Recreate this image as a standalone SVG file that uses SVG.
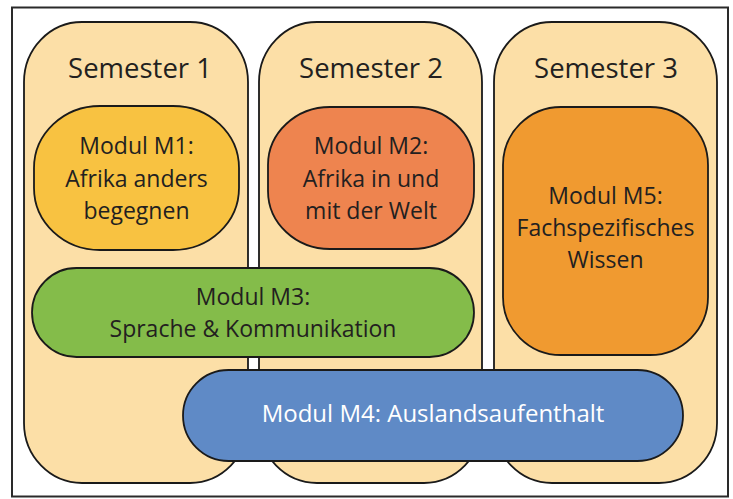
<svg xmlns="http://www.w3.org/2000/svg" width="733" height="499" viewBox="0 0 733 499">
<style>
  .sem { fill: #FCDFA7; stroke: #1a1a1a; stroke-width: 1.8; }
  .mod { stroke: #1a1a1a; stroke-width: 1.8; }
  .t { font-family: "Open Sans", "Noto Sans", "Liberation Sans", sans-serif; fill: #231F20; text-anchor: middle; }
  .h { font-size: 27.5px; }
  .m { font-size: 23px; }
</style>
<rect x="0" y="0" width="733" height="499" fill="#ffffff"/>
<rect id="frame" x="12" y="7.5" width="716" height="489" fill="#ffffff" stroke="#2a2a2a" stroke-width="2"/>

<g id="semester1">
  <rect class="sem" x="24" y="22" width="224" height="461" rx="58" ry="60"/>
  <text class="t h" x="140" y="78">Semester 1</text>
</g>
<g id="semester2">
  <rect class="sem" x="259" y="22" width="223" height="461" rx="58" ry="60"/>
  <text class="t h" x="371" y="78">Semester 2</text>
</g>
<g id="semester3">
  <rect class="sem" x="494" y="22" width="223" height="461" rx="58" ry="60"/>
  <text class="t h" x="606" y="78">Semester 3</text>
</g>

<g id="m1">
  <rect class="mod" x="34" y="106" width="205" height="144" rx="66" ry="62" fill="#F8C241"/>
  <text class="t m" x="136.5" y="154">Modul M1:</text>
  <text class="t m" x="136.5" y="186.5">Afrika anders</text>
  <text class="t m" x="136.5" y="219">begegnen</text>
</g>
<g id="m2">
  <rect class="mod" x="268" y="107" width="206" height="142" rx="62" ry="58" fill="#EE844F"/>
  <text class="t m" x="371" y="154">Modul M2:</text>
  <text class="t m" x="371" y="186.5">Afrika in und</text>
  <text class="t m" x="371" y="219">mit der Welt</text>
</g>
<g id="m5">
  <rect class="mod" x="503" y="107" width="205" height="248" rx="58" ry="58" fill="#F09A30"/>
  <text class="t m" x="605.5" y="204">Modul M5:</text>
  <text class="t m" x="605.5" y="236">Fachspezifisches</text>
  <text class="t m" x="605.5" y="268">Wissen</text>
</g>
<g id="m3">
  <rect class="mod" x="32" y="268" width="442" height="89" rx="44.5" ry="44.5" fill="#84BC4A"/>
  <text class="t m" x="253" y="305">Modul M3:</text>
  <text class="t m" x="253" y="337">Sprache &amp; Kommunikation</text>
</g>
<g id="m4">
  <rect class="mod" x="183" y="370" width="500" height="91" rx="45.5" ry="45.5" fill="#5F8AC6"/>
  <text class="t" x="433" y="422" font-size="24px" fill="#ffffff" style="fill:#ffffff">Modul M4: Auslandsaufenthalt</text>
</g>
<g id="connectors"></g>
</svg>
